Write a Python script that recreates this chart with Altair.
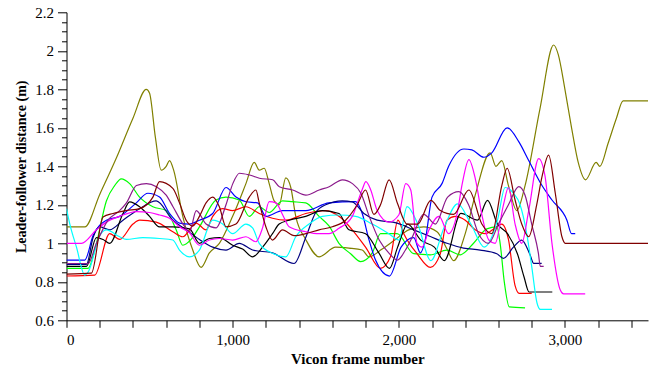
import altair as alt
import pandas as pd

# ---- series data (frame number, leader-follower distance in m) ----
olive_f = [0, 110, 200, 300, 400, 480, 500, 535, 570, 600, 620, 645, 700, 760, 810, 860, 920, 1000, 1080, 1130, 1160, 1190, 1220, 1250, 1280, 1320, 1350, 1380, 1440, 1520, 1620, 1700, 1780, 1820, 1900, 1980, 2060, 2150, 2230, 2290, 2330, 2400, 2460, 2550, 2585, 2620, 2660, 2710, 2760, 2850, 2932, 2960, 3000, 3040, 3080, 3124, 3188, 3210, 3260, 3310, 3350, 3500]
olive_v = [1.085, 1.085, 1.254, 1.443, 1.65, 1.80, 1.78, 1.55, 1.38, 1.40, 1.43, 1.38, 1.14, 0.965, 0.875, 0.95, 1.0, 1.14, 1.31, 1.42, 1.38, 1.39, 1.31, 1.22, 1.2, 1.34, 1.29, 1.14, 1.02, 0.93, 0.98, 0.975, 0.965, 0.93, 0.97, 1.02, 1.07, 1.085, 1.06, 0.97, 0.91, 1.05, 1.25, 1.47, 1.40, 1.43, 1.3, 1.17, 1.3, 1.7, 2.03, 1.98, 1.8, 1.6, 1.42, 1.33, 1.42, 1.40, 1.52, 1.65, 1.74, 1.74]

green_f = [0, 130, 180, 240, 290, 330, 380, 440, 520, 600, 660, 700, 750, 800, 900, 960, 1040, 1100, 1160, 1220, 1300, 1360, 1440, 1520, 1580, 1640, 1710, 1770, 1840, 1890, 1990, 2090, 2190, 2290, 2370, 2450, 2530, 2590, 2610, 2635, 2665, 2760]
green_v = [0.87, 0.87, 1.0, 1.22, 1.3, 1.335, 1.31, 1.24, 1.19, 1.17, 1.07, 0.99, 1.02, 1.085, 1.225, 1.24, 1.225, 1.14, 1.19, 1.16, 1.22, 1.216, 1.21, 1.14, 1.09, 1.0, 0.946, 0.905, 0.95, 1.05, 1.05, 0.946, 0.94, 0.965, 0.94, 1.0, 1.075, 1.085, 1.0, 0.8, 0.67, 0.665]

red_f = [0, 170, 260, 320, 400, 440, 540, 640, 700, 780, 840, 880, 940, 1000, 1080, 1160, 1240, 1320, 1440, 1560, 1640, 1720, 1800, 1890, 1950, 1995, 2030, 2110, 2190, 2250, 2290, 2340, 2400, 2460, 2520, 2580, 2620, 2660, 2700, 2725, 2800]
red_v = [0.83, 0.835, 1.05, 1.02, 1.1, 1.12, 1.11, 1.06, 1.034, 1.105, 1.07, 1.14, 1.18, 1.17, 1.19, 1.155, 1.13, 1.12, 1.155, 1.17, 1.14, 1.07, 0.98, 0.87, 0.93, 1.12, 1.05, 0.946, 0.875, 0.946, 1.12, 1.14, 1.12, 1.07, 1.05, 1.08, 1.1, 1.02, 0.78, 0.74, 0.74]

blue_f = [0, 110, 160, 240, 320, 420, 490, 560, 620, 680, 740, 800, 880, 960, 1020, 1080, 1150, 1200, 1300, 1440, 1580, 1740, 1780, 1820, 1860, 1944, 2014, 2090, 2130, 2160, 2200, 2260, 2300, 2392, 2440, 2512, 2560, 2652, 2722, 2782, 2862, 2922, 3012, 3040, 3062]
blue_v = [0.913, 0.913, 1.04, 1.12, 1.14, 1.21, 1.26, 1.24, 1.155, 1.105, 1.1, 1.12, 1.155, 1.29, 1.24, 1.216, 1.21, 1.14, 1.17, 1.17, 1.21, 1.216, 1.155, 1.02, 0.913, 0.83, 0.98, 1.03, 0.95, 1.02, 1.24, 1.31, 1.4, 1.49, 1.485, 1.447, 1.47, 1.60, 1.528, 1.43, 1.30, 1.225, 1.12, 1.05, 1.05]

navy_f = [0, 120, 160, 200, 260, 340, 440, 540, 640, 720, 800, 880, 960, 1040, 1120, 1240, 1370, 1440, 1500, 1560, 1660, 1720, 1790, 1870, 1990, 2090, 2190, 2290, 2390, 2490, 2590, 2630, 2690, 2740, 2790, 2812, 2860]
navy_v = [0.89, 0.89, 1.03, 1.085, 1.07, 1.12, 1.18, 1.22, 1.12, 1.07, 1.02, 0.98, 0.965, 1.0, 0.965, 0.95, 0.895, 1.03, 1.16, 1.2, 1.22, 1.215, 1.155, 1.12, 1.105, 1.07, 1.035, 1.0, 0.975, 0.965, 0.946, 0.922, 0.98, 1.017, 0.94, 0.896, 0.896]

black_f = [0, 120, 180, 220, 260, 340, 380, 440, 500, 560, 640, 740, 800, 860, 920, 1000, 1060, 1120, 1180, 1240, 1280, 1340, 1440, 1540, 1640, 1700, 1800, 1880, 1944, 1993, 2053, 2134, 2214, 2274, 2374, 2474, 2534, 2594, 2654, 2714, 2754, 2784, 2924]
black_v = [0.88, 0.88, 1.03, 1.02, 1.0, 1.155, 1.215, 1.19, 1.14, 1.085, 1.085, 1.075, 1.0, 1.025, 1.03, 0.99, 0.97, 0.93, 0.98, 1.05, 1.10, 1.12, 1.14, 1.17, 1.155, 1.07, 1.05, 0.95, 0.87, 0.98, 1.10, 1.015, 0.98, 0.91, 1.155, 1.12, 1.223, 1.10, 1.05, 0.946, 0.825, 0.747, 0.747]

cyan_f = [0, 20, 60, 110, 130, 200, 240, 320, 360, 460, 560, 640, 680, 740, 800, 880, 940, 1000, 1080, 1120, 1160, 1240, 1320, 1380, 1460, 1540, 1640, 1740, 1840, 1940, 2000, 2050, 2114, 2193, 2274, 2354, 2434, 2514, 2594, 2640, 2690, 2730, 2770, 2800, 2832, 2852, 2922]
cyan_v = [1.18, 1.1, 0.98, 0.835, 0.85, 1.04, 1.07, 1.034, 1.02, 1.03, 1.025, 1.017, 0.965, 0.93, 0.965, 1.12, 1.1, 1.05, 1.10, 1.08, 1.0, 0.948, 0.93, 1.034, 1.10, 1.14, 1.147, 1.14, 1.10, 1.05, 1.017, 1.19, 1.10, 0.91, 1.085, 1.205, 1.10, 0.98, 1.12, 1.29, 1.26, 1.2, 1.05, 0.88, 0.69, 0.657, 0.657]

magenta_f = [0, 90, 180, 240, 320, 420, 500, 560, 620, 680, 740, 800, 860, 920, 1000, 1080, 1140, 1180, 1220, 1260, 1300, 1340, 1440, 1520, 1580, 1640, 1720, 1780, 1802, 1830, 1870, 1940, 2000, 2042, 2072, 2110, 2140, 2182, 2242, 2300, 2350, 2382, 2422, 2462, 2502, 2542, 2580, 2630, 2660, 2700, 2740, 2782, 2842, 2880, 2922, 2972, 2992, 3122]
magenta_v = [1.0, 1.0, 1.07, 1.11, 1.14, 1.165, 1.16, 1.147, 1.13, 1.086, 1.055, 0.99, 1.017, 1.025, 1.017, 1.034, 1.008, 1.08, 1.216, 1.21, 1.15, 1.086, 1.06, 1.05, 1.05, 1.078, 1.14, 1.28, 1.32, 1.28, 1.17, 1.11, 1.147, 1.31, 1.277, 1.0, 0.98, 1.07, 1.14, 1.05, 1.15, 1.31, 1.435, 1.33, 1.14, 1.017, 1.0, 1.2, 1.29, 1.1, 1.0, 1.17, 1.44, 1.35, 1.0, 0.757, 0.737, 0.737]

purple_f = [0, 130, 180, 250, 320, 361, 421, 481, 541, 600, 641, 701, 741, 781, 840, 900, 960, 1001, 1041, 1101, 1161, 1241, 1281, 1361, 1441, 1521, 1581, 1661, 1721, 1772, 1822, 1882, 1942, 1992, 2040, 2082, 2150, 2220, 2294, 2362, 2420, 2480, 2540, 2600, 2660, 2722, 2760, 2800, 2840, 2852, 2872]
purple_v = [0.895, 0.895, 1.0, 1.12, 1.17, 1.21, 1.30, 1.31, 1.294, 1.25, 1.19, 1.10, 1.06, 1.17, 1.1, 1.08, 1.2, 1.31, 1.364, 1.355, 1.338, 1.33, 1.294, 1.277, 1.25, 1.277, 1.294, 1.33, 1.31, 1.26, 1.14, 1.017, 0.948, 0.913, 0.965, 1.034, 1.15, 1.1, 1.24, 1.268, 1.2, 1.05, 1.0, 1.1, 1.2, 1.294, 1.25, 1.1, 0.95, 0.88, 0.88]

maroon_f = [0, 150, 220, 280, 360, 440, 520, 560, 640, 680, 720, 760, 800, 840, 880, 920, 960, 1020, 1100, 1140, 1160, 1200, 1240, 1300, 1370, 1440, 1520, 1600, 1680, 1750, 1800, 1850, 1890, 1942, 1993, 2050, 2114, 2193, 2250, 2330, 2422, 2500, 2560, 2620, 2652, 2700, 2740, 2782, 2830, 2862, 2902, 2942, 2982, 3002, 3500]
maroon_v = [0.84, 0.845, 1.137, 1.155, 1.17, 1.18, 1.24, 1.32, 1.285, 1.21, 1.12, 1.09, 1.14, 1.21, 1.24, 1.19, 1.086, 1.1, 1.24, 1.277, 1.21, 1.086, 1.017, 1.07, 1.04, 1.05, 1.07, 1.086, 1.12, 1.2, 1.277, 1.15, 1.2, 1.33, 1.205, 1.1, 1.10, 1.223, 1.17, 1.15, 1.277, 1.1, 1.05, 1.3, 1.39, 1.225, 1.1, 1.034, 1.2, 1.346, 1.458, 1.26, 1.034, 1.0, 1.0]

series_names = ["olive", "green", "red", "blue", "navy", "black", "cyan", "magenta", "purple", "maroon"]
series_colors = ["#808000", "#00ff00", "#ff0000", "#0000ff", "#000080", "#000000", "#00ffff", "#ff00ff", "#8b1a8b", "#800000"]
series_frames = [olive_f, green_f, red_f, blue_f, navy_f, black_f, cyan_f, magenta_f, purple_f, maroon_f]
series_values = [olive_v, green_v, red_v, blue_v, navy_v, black_v, cyan_v, magenta_v, purple_v, maroon_v]

x_ticks = list(range(0, 3600, 200))
y_ticks = [round(0.6 + 0.05 * i, 2) for i in range(33)]

rows = []
for name, fs, vs in zip(series_names, series_frames, series_values):
    for f, v in zip(fs, vs):
        rows.append({"series": name, "frame": f, "dist": v})
df = pd.DataFrame(rows)

FONT = "Liberation Serif"

chart = alt.Chart(df).mark_line(strokeWidth=1.2, interpolate="monotone", clip=True).encode(
    x=alt.X("frame:Q",
            scale=alt.Scale(domain=[0, 3500], nice=False, zero=False),
            axis=alt.Axis(values=x_ticks,
                          labelExpr="datum.value % 1000 == 0 ? format(datum.value, ',') : ''",
                          title="Vicon frame number", tickSize=7, labelPadding=5,
                          titlePadding=4, labelOverlap=False, grid=False,
                          domainColor="black", tickColor="black", labelColor="black",
                          labelFontSize=15, titleFontSize=15, titleFontWeight="bold",
                          titleColor="black")),
    y=alt.Y("dist:Q",
            scale=alt.Scale(domain=[0.6, 2.2], nice=False, zero=False),
            axis=alt.Axis(values=y_ticks,
                          labelExpr="round(datum.value * 100) % 20 == 0 ? format(datum.value, '~g') : ''",
                          title="Leader-follower distance (m)",
                          tickSize={"condition": {"test": "round(datum.value * 100) % 20 == 0", "value": 9}, "value": 5},
                          labelPadding=4, titlePadding=6, labelOverlap=False, grid=False,
                          domainColor="black", tickColor="black", labelColor="black",
                          labelFontSize=15, titleFontSize=14, titleFontWeight="bold",
                          titleColor="black")),
    color=alt.Color("series:N", scale=alt.Scale(domain=series_names, range=series_colors), legend=None),
    detail="series:N",
).properties(
    width=581.5, height=308,
    autosize=alt.AutoSizeParams(type="none"),
    padding={"left": 66.5, "top": 12.3, "right": 16, "bottom": 53.7},
).configure(
    background="white", font=FONT
).configure_axis(
    labelFont=FONT, titleFont=FONT
).configure_view(stroke=None)

chart.save("out.html", embed_options={"renderer": "svg", "actions": False})
